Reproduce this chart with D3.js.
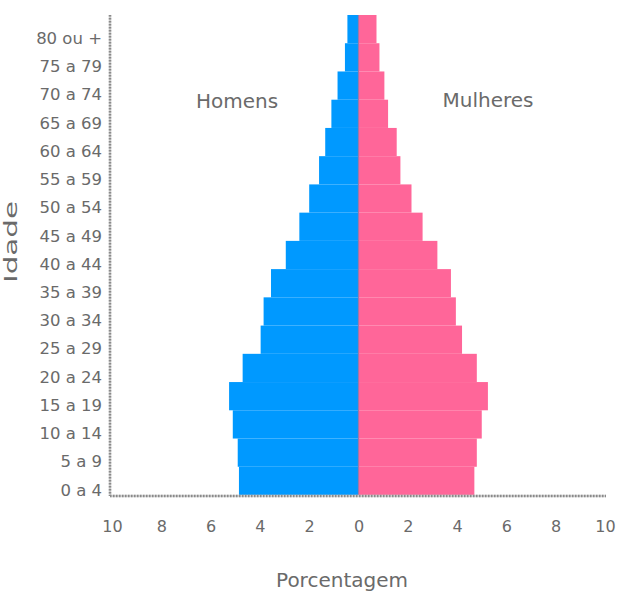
<!DOCTYPE html>
<html><head><meta charset="utf-8">
<script src="https://cdn.jsdelivr.net/npm/d3@7"></script>
<style>body{margin:0;background:#fff}svg{display:block}text{font-family:"DejaVu Sans",Verdana,sans-serif}</style>
</head><body>
<svg id="c" width="625" height="592"></svg>
<script>
const ageGroups = ["0 a 4","5 a 9","10 a 14","15 a 19","20 a 24","25 a 29","30 a 34","35 a 39","40 a 44","45 a 49","50 a 54","55 a 59","60 a 64","65 a 69","70 a 74","75 a 79","80 ou +"];
const homens   = [4.85,4.9,5.1,5.25,4.7,3.97,3.85,3.55,2.95,2.4,2.0,1.6,1.35,1.1,0.85,0.55,0.45];
const mulheres = [4.7,4.8,5.0,5.25,4.8,4.2,3.95,3.75,3.2,2.6,2.15,1.7,1.55,1.2,1.05,0.85,0.73];
const xTicks = [-10,-8,-6,-4,-2,0,2,4,6,8,10];

const svg = d3.select("#c");
const x = d3.scaleLinear().domain([-10,10]).range([112,605]);
const y = d3.scaleBand().domain(ageGroups).range([495,15]).paddingInner(0);

const g = svg.append("g");
g.selectAll("rect.h").data(ageGroups).join("rect").attr("class","h")
  .attr("x",(d,i)=>x(-homens[i])).attr("width",(d,i)=>x(0)-x(-homens[i]))
  .attr("y",d=>y(d)).attr("height",y.bandwidth()).attr("fill","#0099ff");
g.selectAll("rect.m").data(ageGroups).join("rect").attr("class","m")
  .attr("x",x(0)).attr("width",(d,i)=>x(mulheres[i])-x(0))
  .attr("y",d=>y(d)).attr("height",y.bandwidth()).attr("fill","#ff6699");
g.append("line").attr("x1",x(0)).attr("x2",x(0)).attr("y1",15).attr("y2",495)
  .attr("stroke","#9a7aa8").attr("stroke-width",1.2);

function axisLine(x1,y1,x2,y2){
  svg.append("line").attr("x1",x1).attr("y1",y1).attr("x2",x2).attr("y2",y2).attr("stroke","#cfcfcf").attr("stroke-width",2.5);
  svg.append("line").attr("x1",x1).attr("y1",y1).attr("x2",x2).attr("y2",y2).attr("stroke","#8a8a8a").attr("stroke-width",2.5).attr("stroke-dasharray","1.5,1.5");
}
axisLine(110,15,110,496);
axisLine(110,496,606,496);

const ax = svg.append("g").attr("transform","translate(0,518)")
  .call(d3.axisBottom(x).tickValues(xTicks).tickSize(0).tickFormat(d=>Math.abs(d)));
ax.select(".domain").remove();
ax.selectAll("text").attr("fill","#6a6a6a").attr("font-size",16).attr("dy","0.71em");

const ay = svg.append("g").attr("transform","translate(104,9.5)")
  .call(d3.axisLeft(y).tickSize(0));
ay.select(".domain").remove();
ay.selectAll("text").attr("fill","#6a6a6a").attr("font-size",16.5).attr("x",-2);

svg.append("text").attr("x",237).attr("y",101).attr("dy","0.35em").attr("text-anchor","middle")
  .attr("fill","#6a6a6a").attr("font-size",20).text("Homens");
svg.append("text").attr("x",488).attr("y",100).attr("dy","0.35em").attr("text-anchor","middle")
  .attr("fill","#6a6a6a").attr("font-size",20).text("Mulheres");
svg.append("text").attr("x",342).attr("y",580).attr("dy","0.35em").attr("text-anchor","middle")
  .attr("fill","#6a6a6a").attr("font-size",20).text("Porcentagem");
svg.append("text").attr("transform","translate(11,242) rotate(-90)").attr("dy","0.35em").attr("text-anchor","middle")
  .attr("fill","#6a6a6a").attr("font-size",18).attr("textLength",82).attr("lengthAdjust","spacingAndGlyphs").text("Idade");
</script>
</body></html>
